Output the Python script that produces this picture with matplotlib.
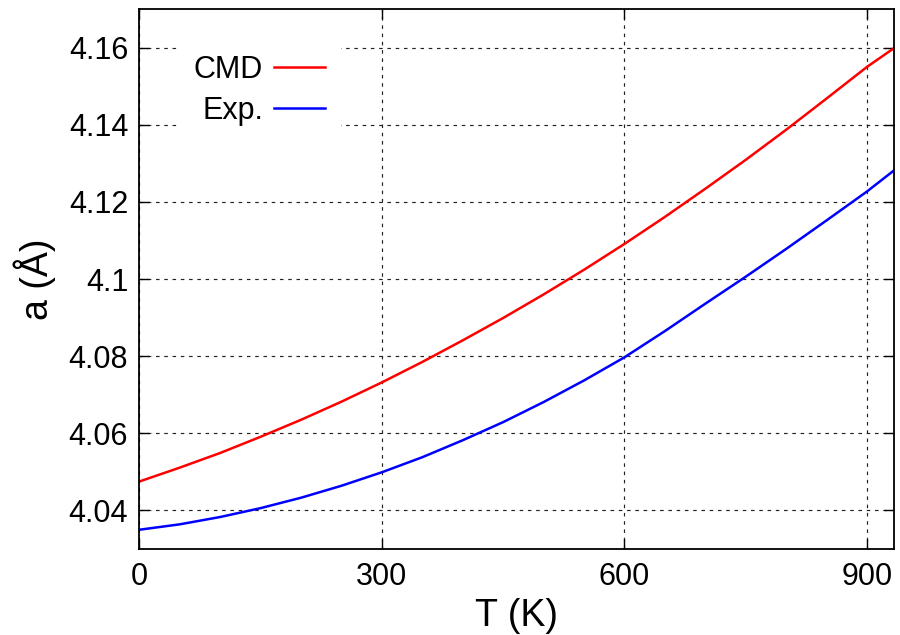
import matplotlib
matplotlib.use("Agg")
import matplotlib.pyplot as plt

# Lattice parameter of Al versus temperature
temperature = [0, 50, 100, 150, 200, 250, 300, 350, 400, 450, 500,
               550, 600, 650, 700, 750, 800, 850, 900, 933]
a_cmd = [4.0475, 4.0511, 4.0549, 4.0591, 4.0635, 4.0682, 4.0732, 4.0785, 4.0841, 4.0899,
         4.0960, 4.1024, 4.1091, 4.1161, 4.1234, 4.1309, 4.1387, 4.1468, 4.1550, 4.1598]
a_exp = [4.0350, 4.0364, 4.0383, 4.0406, 4.0433, 4.0464, 4.0499, 4.0538, 4.0582, 4.0629,
         4.0681, 4.0737, 4.0797, 4.0865, 4.0936, 4.1006, 4.1078, 4.1152, 4.1227, 4.1281]

x_ticks = [0, 300, 600, 900]
y_ticks = [4.04, 4.06, 4.08, 4.10, 4.12, 4.14, 4.16]
y_tick_labels = ["4.04", "4.06", "4.08", "4.1", "4.12", "4.14", "4.16"]

plt.rcParams["font.family"] = ["Liberation Sans", "DejaVu Sans"]

fig = plt.figure(figsize=(9.0, 6.35), dpi=100)
ax = fig.add_axes([0.1548, 0.1354, 0.993 - 0.1548, 0.9858 - 0.1354])

ax.plot(temperature, a_cmd, color="#ff0000", lw=1.8, label="CMD")
ax.plot(temperature, a_exp, color="#0000ff", lw=1.8, label="Exp.")

ax.set_xlim(0, 933)
ax.set_ylim(4.03, 4.17)
ax.set_xticks(x_ticks)
ax.set_xticklabels([str(t) for t in x_ticks])
ax.set_yticks(y_ticks)
ax.set_yticklabels(y_tick_labels)

ax.grid(True, color="#222222", linestyle=(0, (3, 4)), linewidth=0.85)
ax.set_axisbelow(True)

ax.tick_params(direction="in", length=7, width=1.0, top=True, right=True,
               labelsize=22, colors="black")
ax.tick_params(axis="x", pad=9)
ax.tick_params(axis="y", pad=8)
for s in ax.spines.values():
    s.set_linewidth(1.3)
    s.set_color("black")

ax.set_xlabel("T (K)", fontsize=27, labelpad=5)
ax.set_ylabel("a (Å)", fontsize=27, labelpad=9)

leg = ax.legend(loc="upper right", bbox_to_anchor=(0.2667, 0.944),
                markerfirst=False, fontsize=22, handlelength=1.67,
                handletextpad=0.36, labelspacing=0.38, borderpad=0.5,
                borderaxespad=0.0, frameon=True, fancybox=False)
leg.get_frame().set_facecolor("white")
leg.get_frame().set_edgecolor("none")
leg.get_frame().set_alpha(1.0)
for t in leg.get_texts():
    t.set_ha("right")

fig.savefig("out.png", dpi=100)
